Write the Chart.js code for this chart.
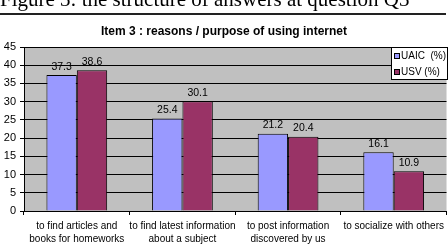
<!DOCTYPE html>
<html>
<head>
<meta charset="utf-8">
<script src="https://cdn.jsdelivr.net/npm/chart.js@4/dist/chart.umd.min.js"></script>
<style>
  html, body { margin: 0; padding: 0; background: #fff; overflow: hidden; }
  #wrap { position: relative; width: 448px; height: 246px; }
  #caption {
    position: absolute; left: 0; top: -13px; white-space: nowrap;
    font-family: "Liberation Serif", "DejaVu Serif", serif; font-size: 21px; color: #000;
    z-index: 2;
  }
  #rule { position: absolute; left: 0; top: 13px; width: 446px; height: 2px; background: #222; z-index: 2; }
  #chart { position: absolute; left: 0; top: 0; }
</style>
</head>
<body>
<div id="wrap">
  <div id="caption">Figure 3: the structure of answers at question Q3</div>
  <div id="rule"></div>
  <canvas id="chart" width="448" height="246"></canvas>
</div>
<script>
// données
const categories = [
    ['to find articles and', 'books for homeworks'],
    ['to find latest information', 'about a subject'],
    ['to post information', 'discovered by us'],
    ['to socialize with others']
];
const uaicValues = [37.3, 25.4, 21.2, 16.1];
const usvValues = [38.6, 30.1, 20.4, 10.9];
const seriesNames = ['UAIC  (%)', 'USV (%)'];
const seriesColors = ['#9999FF', '#993366'];

const fontFamily = 'Arial, "Liberation Sans", sans-serif';

// fond gris de la zone de tracé
const plotBackground = {
    id: 'plotBackground',
    beforeDraw(chart) {
        const { ctx, chartArea: a } = chart;
        ctx.save();
        ctx.fillStyle = '#C0C0C0';
        ctx.fillRect(a.left, a.top, a.right - a.left, a.bottom - a.top);
        ctx.restore();
    }
};

// valeurs au-dessus des barres
const barLabels = {
    id: 'barLabels',
    afterDatasetsDraw(chart) {
        const ctx = chart.ctx;
        ctx.save();
        ctx.font = '10.5px ' + fontFamily;
        ctx.fillStyle = '#000';
        ctx.textAlign = 'center';
        ctx.textBaseline = 'bottom';
        chart.data.datasets.forEach((ds, i) => {
            chart.getDatasetMeta(i).data.forEach((bar, j) => {
                ctx.fillText(ds.data[j].toFixed(1), bar.x, bar.y - 3);
            });
        });
        ctx.restore();
    }
};

// légende en encadré, posée sur la zone de tracé
const boxLegend = {
    id: 'boxLegend',
    afterDraw(chart) {
        const ctx = chart.ctx;
        const x = 391, y = 47, w = 57, h = 33;
        ctx.save();
        ctx.fillStyle = '#fff';
        ctx.fillRect(x, y, w, h);
        ctx.strokeStyle = '#000';
        ctx.lineWidth = 1;
        ctx.strokeRect(x + 0.5, y + 0.5, w - 1, h - 1);
        ctx.font = '10px ' + fontFamily;
        ctx.textBaseline = 'middle';
        chart.data.datasets.forEach((ds, i) => {
            const cy = y + 9 + i * 16;
            ctx.fillStyle = ds.backgroundColor;
            ctx.fillRect(x + 3, cy - 3, 6, 6);
            ctx.strokeStyle = '#000';
            ctx.strokeRect(x + 3.5, cy - 2.5, 5, 5);
            ctx.fillStyle = '#000';
            ctx.fillText(ds.label, x + 10, cy);
        });
        ctx.restore();
    }
};

const ctx = document.getElementById('chart');
new Chart(ctx, {
    type: 'bar',
    data: {
        labels: categories,
        datasets: [
            {
                label: seriesNames[0],
                data: uaicValues,
                backgroundColor: seriesColors[0],
                borderColor: '#000',
                borderWidth: 1
            },
            {
                label: seriesNames[1],
                data: usvValues,
                backgroundColor: seriesColors[1],
                borderColor: '#000',
                borderWidth: 1
            }
        ]
    },
    options: {
        responsive: false,
        animation: false,
        devicePixelRatio: 1,
        categoryPercentage: 0.575,
        barPercentage: 1,
        layout: { padding: 0 },
        plugins: {
            legend: { display: false },
            tooltip: { enabled: false },
            title: {
                display: true,
                text: 'Item 3 : reasons / purpose of using internet',
                color: '#000',
                font: { family: fontFamily, size: 12, weight: 'bold' },
                padding: { top: 24, bottom: 8.6 }
            }
        },
        scales: {
            x: {
                afterFit: (scale) => { scale.height = 35; },
                border: { color: '#000', width: 1 },
                grid: { offset: true, drawOnChartArea: false, drawTicks: true, tickLength: 4, color: '#000' },
                ticks: {
                    color: '#000',
                    padding: 4,
                    maxRotation: 0,
                    autoSkip: false,
                    font: { family: fontFamily, size: 10, lineHeight: 1.35 }
                }
            },
            y: {
                min: 0,
                max: 45,
                afterFit: (scale) => { scale.width = 24; },
                border: { color: '#000', width: 1 },
                grid: { color: '#000', lineWidth: 1, tickLength: 4 },
                ticks: {
                    stepSize: 5,
                    color: '#000',
                    padding: 4,
                    font: { family: fontFamily, size: 11 }
                }
            }
        }
    },
    plugins: [plotBackground, barLabels, boxLegend]
});
</script>
</body>
</html>
